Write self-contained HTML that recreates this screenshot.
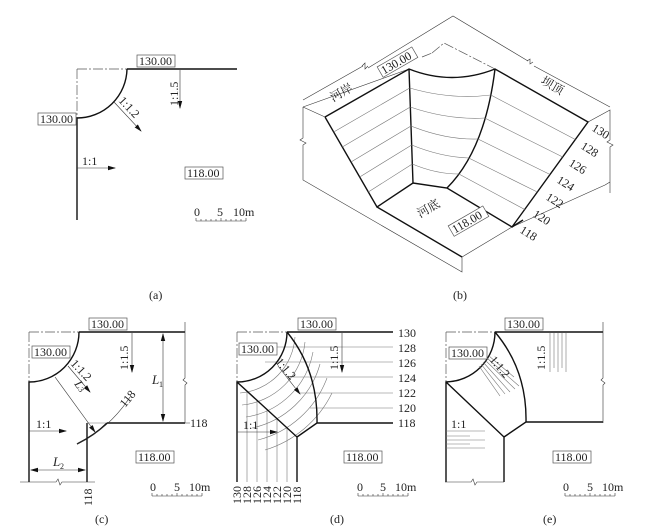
<!DOCTYPE html>
<html><head><meta charset="utf-8"><style>
html,body{margin:0;padding:0;background:#fff}
svg{display:block}
text{font-family:"Liberation Serif","Noto Serif CJK SC",serif;font-size:12px;fill:#222}
.k{stroke:#111;stroke-width:1.4;fill:none}
.t{stroke:#333;stroke-width:0.6;fill:none}
.g{stroke:#777;stroke-width:0.6;fill:none}
.dd{stroke:#555;stroke-width:0.7;fill:none;stroke-dasharray:10 2 2 2}
.box{fill:#fff;stroke:#555;stroke-width:0.7}
</style></head><body>
<svg width="646" height="527" viewBox="0 0 646 527" xmlns="http://www.w3.org/2000/svg">
<defs>
<marker id="ar" markerWidth="8" markerHeight="6" refX="7" refY="3" orient="auto" markerUnits="userSpaceOnUse"><path d="M0,0.8 L8,3 L0,5.2z" fill="#111"/></marker>
<marker id="al" markerWidth="8" markerHeight="6" refX="1" refY="3" orient="auto" markerUnits="userSpaceOnUse"><path d="M8,0.8 L0,3 L8,5.2z" fill="#111"/></marker>
<g id="sb">
<path class="t" d="M0,8 H50 M0,5 V8 M5,6 V8 M10,6 V8 M15,6 V8 M20,6 V8 M25,5 V8 M30,6 V8 M35,6 V8 M40,6 V8 M45,6 V8 M50,5 V8"/>
</g>
</defs>

<!-- ===== (a) ===== -->
<path class="dd" d="M77,69 H127 M77,69 V118"/>
<path class="k" d="M127,69 H237 M127,69 A50,50 0 0 1 77,118 V220"/>
<rect class="box" x="137" y="55" width="38" height="12"/><text x="139" y="65">130.00</text>
<rect class="box" x="38" y="113" width="38" height="12"/><text x="40" y="123">130.00</text>
<path class="t" d="M180,70 V108" marker-end="url(#ar)"/>
<text transform="translate(178,106) rotate(-90)">1:1.5</text>
<path class="t" d="M114,102 L141,131" marker-end="url(#ar)"/>
<text transform="translate(118,101) rotate(47)">1:1.2</text>
<path class="t" d="M77,168 H115" marker-end="url(#ar)"/>
<text x="82" y="165">1:1</text>
<rect class="box" x="185" y="167" width="38" height="12"/><text x="187" y="177">118.00</text>
<text x="194" y="216">0</text><text x="217" y="216">5</text><text x="233" y="216">10m</text>
<use href="#sb" x="196" y="213"/>
<text x="149" y="299">(a)</text>

<!-- ===== (b) ===== -->
<path class="t" d="M303,100 L363,66 M368,68 L453,16 L528,61 M534,66 L610,107"/>
<path class="t" d="M362,66 l3,-3 l0,6 l3,-3 M527,61 l3,-2 l0,5 l3,-2"/>
<path class="dd" d="M422,57 L432,53 M432,53 L444,43 L495,69"/>
<path class="t" d="M303,107 L409,69"/>
<path class="t" d="M303,107 V138 l-3,2 l6,3 l-3,2 V180 L462,272 V257 L512,227 L605,185 M588,122 L610,110 V140 l-3,2 l6,3 l-3,2 V193 M605,185 L610,182"/>
<path class="t" d="M303,107 L325,117"/>
<path class="k" d="M325,117 L409,69 Q452,86 495,69 L588,122 L512,227 L447,188 L413,183 L377,207 L325,117 M409,69 L413,183 M495,69 Q485,150 447,188 M377,207 L462,257 M512,227 L523,220"/>
<path class="g" d="M333.7,132 L409.7,88 M342.3,147 L410.3,107 M351,162 L411,126 M359.7,177 L411.7,145 M368.3,192 L412.3,164"/>
<path class="g" d="M409.7,88 Q451,100 490.8,95 M410.3,107 Q448,120 484.7,118 M411,126 Q446,140 478,139 M411.7,145 Q441,157 468.7,158 M412.3,164 Q436,174 458.9,174"/>
<path class="g" d="M490.8,95 L575.3,139.5 M484.7,118 L562.7,157 M478,139 L550,174.5 M468.7,158 L537.3,192 M458.9,174 L524.7,209.5"/>
<g transform="translate(398,63) rotate(-30)"><rect class="box" x="-20" y="-7" width="40" height="12"/><text x="-18" y="3">130.00</text></g>
<g transform="translate(469,222) rotate(-30)"><rect class="box" x="-20" y="-7" width="40" height="12"/><text x="-18" y="3">118.00</text></g>
<text transform="translate(333,102) rotate(-30)" style="font-size:12px">河岸</text>
<text transform="translate(540,83) rotate(30)" style="font-size:12px">坝顶</text>
<text transform="translate(420,218) rotate(-30)" style="font-size:12px">河底</text>
<g style="font-size:11px">
<text transform="translate(591,130) rotate(32)">130</text>
<text transform="translate(580,148) rotate(32)">128</text>
<text transform="translate(568,165) rotate(32)">126</text>
<text transform="translate(556,182) rotate(32)">124</text>
<text transform="translate(545,199) rotate(32)">122</text>
<text transform="translate(532,216) rotate(32)">120</text>
<text transform="translate(519,232) rotate(32)">118</text>
</g>
<text x="453" y="299">(b)</text>

<!-- ===== (c) ===== -->
<path class="dd" d="M29,332 H79 M29,332 V382"/>
<path class="k" d="M79,332 H185 M79,332 A50,50 0 0 1 29,382 V482 M87,423 V482 M107,423 H185"/>
<path class="g" d="M87,423 H107"/>
<path class="t" d="M20,482 H56 l2,-3 l2,6 l2,-3 H95 M185,322 V378 l-2,2 l4,3 l-2,2 V423 M185,423 H190"/>
<path class="k" d="M107,423 Q95,435 77,444"/>
<path class="t" d="M77,444 Q110,428 130,397"/>
<rect class="box" x="89" y="318" width="38" height="12"/><text x="91" y="328">130.00</text>
<rect class="box" x="32" y="346" width="38" height="12"/><text x="34" y="356">130.00</text>
<path class="t" d="M132,333 V372" marker-end="url(#ar)"/>
<text transform="translate(128,370) rotate(-90)">1:1.5</text>
<path class="t" d="M163,334 V421" marker-start="url(#al)" marker-end="url(#ar)"/>
<text x="152" y="384" style="font-style:italic;font-size:13px">L</text><text x="159" y="387" style="font-size:8px">1</text>
<text x="190" y="427">118</text>
<path class="t" d="M68,366 L90,392" marker-end="url(#ar)"/>
<text transform="translate(70,364) rotate(47)">1:1.2</text>
<path class="t" d="M55,377 L95,432" marker-end="url(#ar)"/>
<text transform="translate(74,384) rotate(55)" style="font-style:italic;font-size:12px">L<tspan style="font-size:8px;font-style:normal">3</tspan></text>
<text transform="translate(125,408) rotate(-50)">118</text>
<path class="t" d="M29,431 H66" marker-end="url(#ar)"/>
<text x="36" y="428">1:1</text>
<path class="t" d="M31,470 H85" marker-start="url(#al)" marker-end="url(#ar)"/>
<text x="53" y="466" style="font-style:italic;font-size:13px">L</text><text x="60" y="469" style="font-size:8px">2</text>
<text transform="translate(92,506) rotate(-90)">118</text>
<rect class="box" x="136" y="451" width="38" height="12"/><text x="138" y="461">118.00</text>
<text x="150" y="491">0</text><text x="174" y="491">5</text><text x="189" y="491">10m</text>
<use href="#sb" x="152" y="488"/>
<text x="95" y="523">(c)</text>

<!-- ===== (d) ===== -->
<path class="dd" d="M237,332 H287 M237,332 V382"/>
<path class="g" d="M287,332 H393 M270,347 H393 M265,362 H393 M290,377 H393 M300,393 H393 M310,408 H393"/>
<path class="g" d="M247,391 V482 M257,400 V482 M267,410 V482 M277,419 V482 M287,428 V482"/>
<path class="g" d="M240,393 A60,60 0 0 0 295,337 M242,405 A70,70 0 0 0 305,342 M246,417 A80,80 0 0 0 313,352 M252,428 A90,90 0 0 0 320,364 M258,440 A100,100 0 0 0 327,378 M265,450 A110,110 0 0 0 332,393"/>
<path class="k" d="M287,332 H393 M287,332 A50,50 0 0 1 237,382 V482 M237,382 L297,437 V482 M287,332 Q318,370 317,423 L297,437 M317,423 H393"/>
<rect class="box" x="298" y="318" width="38" height="12"/><text x="300" y="328">130.00</text>
<rect class="box" x="239" y="343" width="38" height="12"/><text x="241" y="353">130.00</text>
<path class="t" d="M342,333 V372" marker-end="url(#ar)"/>
<text transform="translate(338,370) rotate(-90)">1:1.5</text>
<path class="t" d="M278,366 L300,394" marker-end="url(#ar)"/>
<text transform="translate(275,362) rotate(50)">1:1.2</text>
<path class="t" d="M237,432 H277" marker-end="url(#ar)"/>
<text x="243" y="429">1:1</text>
<g style="font-size:12px">
<text x="398" y="337">130</text><text x="398" y="352">128</text><text x="398" y="367">126</text><text x="398" y="382">124</text><text x="398" y="397">122</text><text x="398" y="412">120</text><text x="398" y="427">118</text>
</g>
<g style="font-size:11px">
<text transform="translate(241,504) rotate(-90)">130</text>
<text transform="translate(251,504) rotate(-90)">128</text>
<text transform="translate(261,504) rotate(-90)">126</text>
<text transform="translate(271,504) rotate(-90)">124</text>
<text transform="translate(281,504) rotate(-90)">122</text>
<text transform="translate(291,504) rotate(-90)">120</text>
<text transform="translate(301,504) rotate(-90)">118</text>
</g>
<rect class="box" x="344" y="451" width="38" height="12"/><text x="346" y="461">118.00</text>
<text x="357" y="491">0</text><text x="380" y="491">5</text><text x="395" y="491">10m</text>
<use href="#sb" x="358" y="488"/>
<text x="330" y="523">(d)</text>

<!-- ===== (e) ===== -->
<path class="dd" d="M446,332 H495 M446,332 V382"/>
<path class="k" d="M495,332 H603 M495,332 A50,50 0 0 1 446,382 V482 M446,382 L504,437 V482 M495,332 Q527,370 526,422 L504,437 M526,422 H603"/>
<path class="t" d="M445,482 H471 l2,-3 l2,6 l2,-3 H504 M603,322 V378 l-2,2 l4,3 l-2,2 V423"/>
<path class="g" d="M550,333 V372 M554,333 V368 M558,333 V372 M562,333 V368 M566,333 V372"/>
<path class="g" d="M479,366 L500,396 M481,364 L505,394 M483,362 L510,392 M485,360 L515,389 M487,358 L519,386 M489,356 L514,377"/>
<path class="g" d="M446,431 H485 M446,436 H470 M446,440 H485 M446,444 H470 M446,448 H485"/>
<rect class="box" x="505" y="318" width="38" height="12"/><text x="507" y="328">130.00</text>
<rect class="box" x="449" y="347" width="38" height="12"/><text x="451" y="357">130.00</text>
<text transform="translate(545,370) rotate(-90)">1:1.5</text>
<text transform="translate(489,360) rotate(50)">1:1.2</text>
<text x="451" y="428">1:1</text>
<rect class="box" x="553" y="451" width="38" height="12"/><text x="555" y="461">118.00</text>
<text x="563" y="491">0</text><text x="587" y="491">5</text><text x="602" y="491">10m</text>
<use href="#sb" x="565" y="488"/>
<text x="543" y="523">(e)</text>
</svg>
</body></html>
